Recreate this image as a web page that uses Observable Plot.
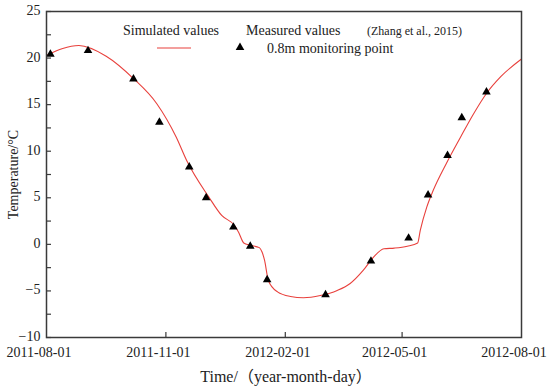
<!DOCTYPE html>
<html>
<head>
<meta charset="utf-8">
<script src="https://cdn.jsdelivr.net/npm/d3@7"></script>
<script src="https://cdn.jsdelivr.net/npm/@observablehq/plot@0.6"></script>
<style>
  html, body { margin: 0; padding: 0; background: #fff; }
  #wrap { position: relative; width: 550px; height: 387px; }
  #overlay { position: absolute; left: 0; top: 0; pointer-events: none; }
</style>
</head>
<body>
<div id="wrap"></div>
<script>
// ---- data ----
const simDates = ["2011-08-01","2011-08-26","2011-09-16","2011-10-07","2011-10-25","2011-11-09","2011-11-17",
  "2011-12-04","2011-12-14","2011-12-24","2011-12-27","2011-12-31","2012-01-05","2012-01-12","2012-01-14",
  "2012-01-16","2012-01-19","2012-01-26","2012-02-05","2012-02-15","2012-02-28","2012-03-12","2012-03-22",
  "2012-04-01","2012-04-09","2012-04-17","2012-04-25","2012-05-05","2012-05-13","2012-05-15","2012-05-20",
  "2012-05-25","2012-06-04","2012-06-15","2012-06-25","2012-07-05","2012-07-16","2012-08-01"];
const simTemps = [20.3, 21.35, 20.2, 17.8, 15.1, 11.5, 9.0,
  5.1, 3.1, 2.0, 1.3, 0.15, -0.1, -0.35, -0.8,
  -1.7, -3.9, -5.1, -5.6, -5.74, -5.5, -4.95, -4.2,
  -2.8, -1.37, -0.47, -0.4, -0.2, 0.15, 1.5, 4.0,
  5.8, 8.66, 11.5, 14.0, 16.2, 18.0, 19.9];

const measDates = ["2011-08-04","2011-09-02","2011-10-07","2011-10-27","2011-11-19","2011-12-02","2011-12-23",
  "2012-01-05","2012-01-18","2012-03-03","2012-04-07","2012-05-06","2012-05-21","2012-06-05","2012-06-16","2012-07-05"];
const measTemps = [20.4, 20.8, 17.75, 13.1, 8.3, 5.0, 1.85, -0.2, -3.8, -5.4, -1.8, 0.67, 5.3, 9.55, 13.6, 16.35];

const xTickLabels = ["2011-08-01","2011-11-01","2012-02-01","2012-05-01","2012-08-01"];
const yMajorTicks = [-10, -5, 0, 5, 10, 15, 20, 25];
const yMinorTicks = [-7.5, -2.5, 2.5, 7.5, 12.5, 17.5, 22.5];
const yDomain = [-10, 25];

const xTitle = "Time/（year-month-day）";
const yTitle = "Temperature/°C";
const legendSim = "Simulated values";
const legendMeas = "Measured values";
const legendRef = "(Zhang et al., 2015)";
const legendPoint = "0.8m monitoring point";

// ---- build ----
const parse = d3.utcParse("%Y-%m-%d");
const sim = simDates.map((d, i) => ({date: parse(d), t: simTemps[i]}));
const meas = measDates.map((d, i) => ({date: parse(d), t: measTemps[i]}));
const xTicks = xTickLabels.map(parse);
const xDomain = [xTicks[0], xTicks[xTicks.length - 1]];

const W = 550, H = 387, mL = 46, mR = 29, mT = 11, mB = 50;
const FONT = "'Liberation Serif', 'Times New Roman', 'Noto Sans CJK SC', serif";
const tickLenY = (yDomain[1] - yDomain[0]) * 5 / (H - mT - mB);
const tickLenX = (xDomain[1] - xDomain[0]) * 5 / (W - mL - mR);
const ink = "#3a3a3a";
const RED = "#e8403c";
const R = 3.2;

const chart = Plot.plot({
  width: W, height: H,
  marginLeft: mL, marginRight: mR, marginTop: mT, marginBottom: mB,
  style: {fontFamily: FONT, background: "#fff", color: "#222"},
  x: {type: "utc", domain: xDomain},
  y: {domain: yDomain},
  marks: [
    Plot.axisX({ticks: xTicks, tickSize: 0, tickPadding: 10, dx: -7.5, tickFormat: d3.utcFormat("%Y-%m-%d"),
      fontSize: 14, label: null}),
    Plot.axisY({ticks: yMajorTicks, tickSize: 0, tickPadding: 6, fontSize: 14, dy: -1,
      label: yTitle, labelAnchor: "center", labelOffset: 38, labelArrow: "none"}),
    Plot.ruleX(xTicks.slice(1, -1), {x: d => d, y1: yDomain[0], y2: yDomain[0] + tickLenY, stroke: ink, strokeWidth: 1.2}),
    Plot.ruleY(yMajorTicks.concat(yMinorTicks), {y: d => d, x1: xDomain[0], x2: new Date(+xDomain[0] + tickLenX), stroke: ink, strokeWidth: 1.2}),
    Plot.line(sim, {x: "date", y: "t", stroke: RED, strokeWidth: 1.1, curve: "monotone-x"}),
    Plot.dot(meas, {x: "date", y: "t", symbol: "triangle", fill: "#000", r: R}),
    Plot.frame({stroke: ink, strokeWidth: 1.5})
  ]
});

const wrap = document.getElementById("wrap");
wrap.appendChild(chart);

// legend + x title overlay
const ns = "http://www.w3.org/2000/svg";
const lg = document.createElementNS(ns, "svg");
lg.setAttribute("id", "overlay");
lg.setAttribute("width", W);
lg.setAttribute("height", H);
lg.style.fontFamily = FONT;
function txt(x, y, s, size, anchor) {
  const t = document.createElementNS(ns, "text");
  t.setAttribute("x", x); t.setAttribute("y", y);
  t.setAttribute("font-size", size); t.setAttribute("fill", "#222");
  if (anchor) t.setAttribute("text-anchor", anchor);
  t.textContent = s; lg.appendChild(t);
  return t;
}
txt(123, 35, legendSim, 14);
txt(246, 35, legendMeas, 14);
txt(367, 35, legendRef, 12);
txt(267, 53, legendPoint, 14);
const ln = document.createElementNS(ns, "line");
ln.setAttribute("x1", 157); ln.setAttribute("x2", 191);
ln.setAttribute("y1", 48); ln.setAttribute("y2", 48);
ln.setAttribute("stroke", RED); ln.setAttribute("stroke-width", 1.1);
lg.appendChild(ln);
const tri = document.createElementNS(ns, "path");
tri.setAttribute("d", d3.symbol(d3.symbolTriangle, Math.PI * R * R)());
tri.setAttribute("transform", "translate(240,47.5)");
tri.setAttribute("fill", "#000");
lg.appendChild(tri);
txt(286, 382, xTitle, 16, "middle");
wrap.appendChild(lg);
</script>
</body>
</html>
